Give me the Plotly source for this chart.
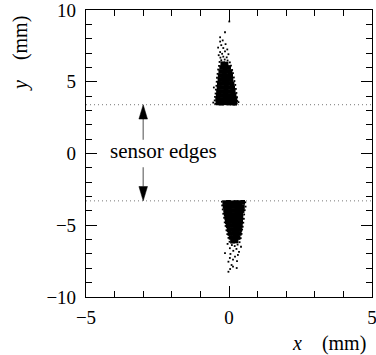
import plotly.graph_objects as go

# ---------------- data ----------------
x_ticks = [-5, 0, 5]
x_ticktext = ["\u22125", "0", "5"]
y_ticks = [-10, -5, 0, 5, 10]
y_ticktext = ["\u221210", "\u22125", "0", "5", "10"]

edge_top = 3.4
edge_bottom = -3.3

# dense core of the upper cluster (mm)
top_core_x = [
    -0.39, -0.26, -0.13, 0.00, 0.13, 0.20,
    -0.40, -0.27, -0.14, -0.01, 0.12, 0.21,
    -0.38, -0.25, -0.12, 0.01, 0.14, 0.18,
    -0.37, -0.24, -0.11, 0.02, 0.15,
    -0.35, -0.22, -0.09, 0.04, 0.13,
    -0.34, -0.21, -0.08, 0.05, 0.11,
    -0.32, -0.19, -0.06, 0.07,
    -0.31, -0.18, -0.05, 0.06,
    -0.29, -0.16, -0.03, 0.04,
    -0.26, -0.13, -0.01,
    -0.22, -0.10,
]
top_core_y = [
    3.52, 3.50, 3.53, 3.51, 3.52, 3.50,
    3.79, 3.77, 3.80, 3.78, 3.76, 3.80,
    4.06, 4.04, 4.07, 4.05, 4.03, 4.08,
    4.33, 4.31, 4.34, 4.32, 4.30,
    4.61, 4.59, 4.62, 4.60, 4.58,
    4.89, 4.87, 4.90, 4.88, 4.86,
    5.16, 5.14, 5.17, 5.15,
    5.43, 5.41, 5.44, 5.42,
    5.71, 5.69, 5.72, 5.70,
    5.99, 5.97, 6.00,
    6.26, 6.24,
]
# sparse hits around / above the upper cluster
top_halo_x = [
    -0.48, -0.50, 0.27, 0.29, -0.49, 0.28, -0.47, 0.26, -0.46, 0.24,
    -0.44, 0.22, -0.43, 0.19, -0.42, 0.17, -0.40, 0.14, -0.38, 0.11,
    -0.35, 0.07, -0.33, 0.03, -0.27, -0.15, -0.05, -0.30, -0.20, -0.08,
    -0.36, -0.24, -0.02, -0.31, -0.14, -0.38, -0.20, -0.06, -0.27, -0.12,
    -0.31, -0.22, -0.31, -0.14, 0.01, -0.55, 0.33, -0.53,
]
top_halo_y = [
    3.46, 3.70, 3.48, 3.66, 3.95, 3.92, 4.18, 4.22, 4.45, 4.50,
    4.72, 4.78, 5.00, 5.05, 5.28, 5.30, 5.55, 5.60, 5.85, 5.82,
    6.10, 6.12, 6.38, 6.35, 6.50, 6.55, 6.48, 6.68, 6.75, 6.70,
    6.85, 6.95, 6.92, 7.07, 7.12, 7.38, 7.35, 7.25, 7.55, 7.62,
    7.80, 7.88, 8.10, 8.45, 9.20, 3.55, 3.58, 4.60,
]

# dense core of the lower cluster (mm)
bot_core_x = [
    -0.15, -0.02, 0.11, 0.24, 0.37, 0.48,
    -0.14, -0.01, 0.12, 0.25, 0.38, 0.47,
    -0.12, 0.01, 0.14, 0.27, 0.40, 0.46,
    -0.10, 0.03, 0.16, 0.29, 0.42,
    -0.08, 0.05, 0.18, 0.31, 0.42,
    -0.06, 0.07, 0.20, 0.33, 0.41,
    -0.03, 0.10, 0.23, 0.36, 0.40,
    0.00, 0.13, 0.26, 0.38,
    0.03, 0.16, 0.29, 0.36,
    0.07, 0.20, 0.32,
    0.12, 0.25,
]
bot_core_y = [
    -3.42, -3.40, -3.43, -3.41, -3.42, -3.40,
    -3.69, -3.67, -3.70, -3.68, -3.66, -3.70,
    -3.96, -3.94, -3.97, -3.95, -3.93, -3.98,
    -4.23, -4.21, -4.24, -4.22, -4.20,
    -4.50, -4.48, -4.51, -4.49, -4.47,
    -4.77, -4.75, -4.78, -4.76, -4.74,
    -5.04, -5.02, -5.05, -5.03, -5.01,
    -5.31, -5.29, -5.32, -5.30,
    -5.58, -5.56, -5.59, -5.57,
    -5.85, -5.83, -5.86,
    -6.12, -6.10,
]
# sparse hits around / below the lower cluster
bot_halo_x = [
    -0.25, -0.24, 0.57, 0.58, -0.22, 0.55, -0.20, 0.53, -0.17, 0.52,
    -0.15, 0.50, -0.12, 0.48, -0.09, 0.46, -0.06, 0.44, -0.02, 0.41,
    0.02, 0.37, -0.05, 0.10, 0.30, 0.20, 0.42, 0.03, 0.26, 0.15,
    -0.14, 0.35, 0.05, 0.31, 0.21, 0.03, 0.14, -0.02, 0.28, 0.09,
    0.14, 0.27, 0.04, -0.02,
]
bot_halo_y = [
    -3.36, -3.62, -3.40, -3.70, -3.90, -3.95, -4.20, -4.25, -4.48, -4.55,
    -4.80, -4.82, -5.05, -5.10, -5.35, -5.30, -5.62, -5.60, -5.88, -5.90,
    -6.15, -6.18, -6.30, -6.38, -6.35, -6.45, -6.50, -6.60, -6.65, -6.78,
    -6.94, -6.85, -7.00, -7.07, -7.19, -7.28, -7.40, -7.54, -7.50, -7.77,
    -7.89, -7.98, -8.05, -8.24,
]

# annotation geometry (mm)
arrow_x = -3.0
arrow_tail_up = 0.95
arrow_tail_down = -0.95
label_x = -2.29
label_y = 0.17

# ---------------- figure ----------------
SERIF = "Liberation Serif"
fig = go.Figure()
for xs, ys, sz in [(top_core_x, top_core_y, 4.6), (bot_core_x, bot_core_y, 4.6),
                   (top_halo_x, top_halo_y, 1.8), (bot_halo_x, bot_halo_y, 1.8)]:
    fig.add_trace(go.Scatter(x=xs, y=ys, mode="markers",
                             marker=dict(symbol="square", size=sz, color="black",
                                         line=dict(width=0)),
                             showlegend=False, hoverinfo="skip"))
# empty trace registering the mirror axes (top / right)
fig.add_trace(go.Scatter(x=[], y=[], xaxis="x2", yaxis="y2", showlegend=False,
                         hoverinfo="skip"))

# sensor edges (dotted)
for e in (edge_top, edge_bottom):
    fig.add_shape(type="line", x0=-5, x1=5, y0=e, y1=e, xref="x", yref="y",
                  line=dict(color="#777777", width=1, dash="1px,3px"), layer="below")

# arrows: grey shaft + black head
head_len = 1.0
head_hw = 0.15
for tail, tip in ((arrow_tail_up, edge_top), (arrow_tail_down, edge_bottom)):
    sgn = 1 if tip > tail else -1
    base = tip - sgn * head_len
    fig.add_shape(type="line", x0=arrow_x, x1=arrow_x, y0=tail, y1=base,
                  xref="x", yref="y", line=dict(color="#777777", width=1.3))
    fig.add_shape(type="path", xref="x", yref="y",
                  path=f"M {arrow_x},{tip} L {arrow_x - head_hw},{base} "
                       f"L {arrow_x + head_hw},{base} Z",
                  fillcolor="black", line=dict(color="black", width=0.5))

fig.add_annotation(x=label_x, y=label_y, xref="x", yref="y", text="sensor edges",
                   showarrow=False, font=dict(family=SERIF, size=21, color="black"))

# axis titles
fig.add_annotation(xref="paper", yref="paper", x=-0.231, y=0.85,
                   xanchor="center", yanchor="middle",
                   text="<i>y</i>&nbsp;&nbsp;&nbsp;&nbsp;(mm)", textangle=-90,
                   showarrow=False, font=dict(family=SERIF, size=20, color="black"))
fig.add_annotation(xref="paper", yref="paper", x=0.85, y=-0.163,
                   xanchor="center", yanchor="middle",
                   text="<i>x</i>&nbsp;&nbsp;&nbsp;&nbsp;(mm)",
                   showarrow=False, font=dict(family=SERIF, size=20, color="black"))


def axis_style(labels):
    return dict(showgrid=False, zeroline=False, showline=True, mirror=False,
                automargin=False,
                linecolor="black", linewidth=1.2, ticks="inside", ticklen=11,
                tickwidth=1, tickcolor="black", ticklabeloverflow="allow",
                showticklabels=labels,
                tickfont=dict(family=SERIF, size=19, color="black"),
                minor=dict(ticks="inside", ticklen=5.5, dtick=1, tickwidth=1,
                           tickcolor="black", showgrid=False))


fig.update_layout(
    xaxis=dict(range=[-5, 5], tickmode="array", tickvals=x_ticks,
               ticktext=x_ticktext, ticklabelstandoff=3, **axis_style(True)),
    yaxis=dict(range=[-10, 10], tickmode="array", tickvals=y_ticks,
               ticktext=y_ticktext, ticklabelstandoff=5, **axis_style(True)),
    xaxis2=dict(range=[-5, 5], overlaying="x", side="top", anchor="y2",
                tickmode="array", tickvals=x_ticks, **axis_style(False)),
    yaxis2=dict(range=[-10, 10], overlaying="y", side="right", anchor="x2",
                tickmode="array", tickvals=y_ticks, **axis_style(False)),
    width=376, height=355,
    margin=dict(l=86, r=4, t=10, b=58, autoexpand=False),
    paper_bgcolor="white", plot_bgcolor="white",
    showlegend=False)

fig.write_html("out.html", config={"displayModeBar": False},
               post_script="document.body.style.margin='0px';"
                           "document.body.style.overflow='hidden';")
